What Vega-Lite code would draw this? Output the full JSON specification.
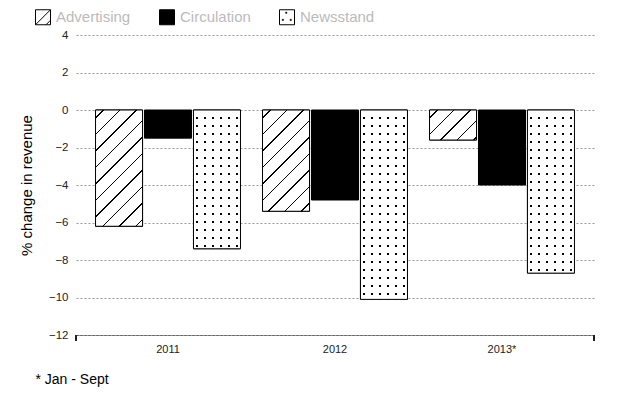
{
  "$schema": "https://vega.github.io/schema/vega-lite/v6.json",
  "width": 518,
  "height": 300,
  "autosize": {"type": "none"},
  "padding": {"left": 76, "top": 35, "right": 36, "bottom": 65},
  "config": {"font": "Liberation Sans", "view": {"stroke": null}},
  "data": {"values": [
    {"year": "2011", "type": "Advertising", "value": -6.2},
    {"year": "2011", "type": "Circulation", "value": -1.5},
    {"year": "2011", "type": "Newsstand", "value": -7.4},
    {"year": "2012", "type": "Advertising", "value": -5.4},
    {"year": "2012", "type": "Circulation", "value": -4.8},
    {"year": "2012", "type": "Newsstand", "value": -10.1},
    {"year": "2013*", "type": "Advertising", "value": -1.6},
    {"year": "2013*", "type": "Circulation", "value": -4.0},
    {"year": "2013*", "type": "Newsstand", "value": -8.7}
  ]},
  "layer": [
    {
      "encoding": {
        "x": {"field": "year", "type": "nominal", "sort": null,
          "scale": {"paddingInner": 0.132, "paddingOuter": 0.117},
          "axis": {"title": "* Jan - Sept", "labelAngle": 0, "labelFontSize": 11, "labelColor": "#222", "labelPadding": 8, "ticks": false,
            "domainDash": [1, 1], "domainColor": "#222", "domainWidth": 1,
            "titleX": -41, "titleY": 44, "titleAlign": "left", "titleBaseline": "middle", "titleAngle": 0,
            "titleFontSize": 14, "titleFontWeight": "normal", "titleColor": "#000"}},
        "xOffset": {"field": "type", "type": "nominal", "scale": {"paddingInner": 0.04, "paddingOuter": 0}},
        "y": {"field": "value", "type": "quantitative", "stack": null,
          "scale": {"domain": [-12, 4], "nice": false, "zero": false},
          "axis": {"values": [-12, -10, -8, -6, -4, -2, 0, 2, 4], "title": "% change in revenue",
            "domain": false, "ticks": false, "labelPadding": 8, "labelFontSize": 11.5, "labelColor": "#222",
            "grid": true, "gridDash": [2, 2], "gridColor": "#999", "gridWidth": 1,
            "titleFontSize": 15, "titleFontWeight": "normal", "titleColor": "#000", "titlePadding": 14}}
      },
      "layer": [
        {
          "mark": {"type": "bar", "stroke": "#000", "strokeWidth": 1},
          "encoding": {
            "fill": {"field": "type", "type": "nominal",
              "scale": {"domain": ["Advertising", "Circulation", "Newsstand"], "range": ["#fff", "#000", "#fff"]},
              "legend": {"title": null, "orient": "none", "legendX": -41, "legendY": -26, "direction": "horizontal",
                "symbolType": "square", "symbolSize": 225, "symbolStrokeColor": "#000", "symbolStrokeWidth": 1,
                "labelFontSize": 15, "labelColor": "#bbb", "labelOffset": 5, "columnPadding": 26, "padding": 0,
                "encoding": {"symbols": {
                  "stroke": {"value": "#000"},
                  "strokeWidth": {"value": 1},
                  "shape": {"value": {"expr": "datum.value === 'Newsstand' ? 'M-1,-1H1V1H-1Z M-0.17,-0.67H-0.03V-0.53H-0.17Z M-0.62,0.28H-0.48V0.42H-0.62Z M0.43,0.28H0.57V0.42H0.43Z' : (datum.value === 'Advertising' ? 'M-1,-1H1V1H-1Z M-1,1L1,-1 M0.4,1L1,0.4' : 'square')"}}
                }}}
            }
          }
        },
        {
          "transform": [{"filter": "datum.type === 'Advertising'"}],
          "mark": {"type": "bar", "stroke": "#000", "strokeWidth": 1},
          "encoding": {
            "fill": {
              "condition": [
                {"test": "datum.year === '2011'", "value": {"gradient": "linear", "x1": 0, "y1": 0, "x2": 0.488, "y2": 1.207, "stops": [
                  {"offset": 0, "color": "#fff"},
                  {"offset": 0.0447, "color": "#fff"}, {"offset": 0.0447, "color": "#000"}, {"offset": 0.0533, "color": "#000"}, {"offset": 0.0533, "color": "#fff"},
                  {"offset": 0.1458, "color": "#fff"}, {"offset": 0.1458, "color": "#000"}, {"offset": 0.1544, "color": "#000"}, {"offset": 0.1544, "color": "#fff"},
                  {"offset": 0.2469, "color": "#fff"}, {"offset": 0.2469, "color": "#000"}, {"offset": 0.2554, "color": "#000"}, {"offset": 0.2554, "color": "#fff"},
                  {"offset": 0.3479, "color": "#fff"}, {"offset": 0.3479, "color": "#000"}, {"offset": 0.3565, "color": "#000"}, {"offset": 0.3565, "color": "#fff"},
                  {"offset": 0.449, "color": "#fff"}, {"offset": 0.449, "color": "#000"}, {"offset": 0.4576, "color": "#000"}, {"offset": 0.4576, "color": "#fff"},
                  {"offset": 0.5501, "color": "#fff"}, {"offset": 0.5501, "color": "#000"}, {"offset": 0.5587, "color": "#000"}, {"offset": 0.5587, "color": "#fff"},
                  {"offset": 0.6511, "color": "#fff"}, {"offset": 0.6511, "color": "#000"}, {"offset": 0.6597, "color": "#000"}, {"offset": 0.6597, "color": "#fff"},
                  {"offset": 0.7522, "color": "#fff"}, {"offset": 0.7522, "color": "#000"}, {"offset": 0.7608, "color": "#000"}, {"offset": 0.7608, "color": "#fff"},
                  {"offset": 0.8533, "color": "#fff"}, {"offset": 0.8533, "color": "#000"}, {"offset": 0.8619, "color": "#000"}, {"offset": 0.8619, "color": "#fff"},
                  {"offset": 0.9544, "color": "#fff"}, {"offset": 0.9544, "color": "#000"}, {"offset": 0.9629, "color": "#000"}, {"offset": 0.9629, "color": "#fff"},
                  {"offset": 1, "color": "#fff"}]}},
                {"test": "datum.year === '2012'", "value": {"gradient": "linear", "x1": 0, "y1": 0, "x2": 0.5592, "y2": 1.2046, "stops": [
                  {"offset": 0, "color": "#fff"},
                  {"offset": 0.0492, "color": "#fff"}, {"offset": 0.0492, "color": "#000"}, {"offset": 0.0587, "color": "#000"}, {"offset": 0.0587, "color": "#fff"},
                  {"offset": 0.1605, "color": "#fff"}, {"offset": 0.1605, "color": "#000"}, {"offset": 0.17, "color": "#000"}, {"offset": 0.17, "color": "#fff"},
                  {"offset": 0.2718, "color": "#fff"}, {"offset": 0.2718, "color": "#000"}, {"offset": 0.2813, "color": "#000"}, {"offset": 0.2813, "color": "#fff"},
                  {"offset": 0.3831, "color": "#fff"}, {"offset": 0.3831, "color": "#000"}, {"offset": 0.3926, "color": "#000"}, {"offset": 0.3926, "color": "#fff"},
                  {"offset": 0.4944, "color": "#fff"}, {"offset": 0.4944, "color": "#000"}, {"offset": 0.5039, "color": "#000"}, {"offset": 0.5039, "color": "#fff"},
                  {"offset": 0.6057, "color": "#fff"}, {"offset": 0.6057, "color": "#000"}, {"offset": 0.6152, "color": "#000"}, {"offset": 0.6152, "color": "#fff"},
                  {"offset": 0.717, "color": "#fff"}, {"offset": 0.717, "color": "#000"}, {"offset": 0.7265, "color": "#000"}, {"offset": 0.7265, "color": "#fff"},
                  {"offset": 0.8283, "color": "#fff"}, {"offset": 0.8283, "color": "#000"}, {"offset": 0.8378, "color": "#000"}, {"offset": 0.8378, "color": "#fff"},
                  {"offset": 0.9396, "color": "#fff"}, {"offset": 0.9396, "color": "#000"}, {"offset": 0.9491, "color": "#000"}, {"offset": 0.9491, "color": "#fff"},
                  {"offset": 1, "color": "#fff"}]}}
              ],
              "value": {"gradient": "linear", "x1": 0, "y1": 0, "x2": 1.164, "y2": 0.743, "stops": [
                {"offset": 0, "color": "#fff"},
                {"offset": 0.0948, "color": "#fff"}, {"offset": 0.0948, "color": "#000"}, {"offset": 0.113, "color": "#000"}, {"offset": 0.113, "color": "#fff"},
                {"offset": 0.3091, "color": "#fff"}, {"offset": 0.3091, "color": "#000"}, {"offset": 0.3273, "color": "#000"}, {"offset": 0.3273, "color": "#fff"},
                {"offset": 0.5234, "color": "#fff"}, {"offset": 0.5234, "color": "#000"}, {"offset": 0.5416, "color": "#000"}, {"offset": 0.5416, "color": "#fff"},
                {"offset": 0.7377, "color": "#fff"}, {"offset": 0.7377, "color": "#000"}, {"offset": 0.7558, "color": "#000"}, {"offset": 0.7558, "color": "#fff"},
                {"offset": 0.9519, "color": "#fff"}, {"offset": 0.9519, "color": "#000"}, {"offset": 0.9701, "color": "#000"}, {"offset": 0.9701, "color": "#fff"},
                {"offset": 1, "color": "#fff"}]}
            }
          }
        },
        {
          "transform": [{"filter": "datum.type === 'Newsstand'"}],
          "mark": {"type": "bar", "strokeWidth": 0},
          "encoding": {
            "fill": {
              "condition": [
                {"test": "datum.year === '2011'", "value": {"gradient": "linear", "x1": 0, "y1": 0, "x2": 0, "y2": 1, "stops": [
                  {"offset": 0, "color": "#fff"},
                  {"offset": 0.0505, "color": "#fff"}, {"offset": 0.0505, "color": "#000"}, {"offset": 0.0649, "color": "#000"}, {"offset": 0.0649, "color": "#fff"},
                  {"offset": 0.1081, "color": "#fff"}, {"offset": 0.1081, "color": "#000"}, {"offset": 0.1225, "color": "#000"}, {"offset": 0.1225, "color": "#fff"},
                  {"offset": 0.1658, "color": "#fff"}, {"offset": 0.1658, "color": "#000"}, {"offset": 0.1802, "color": "#000"}, {"offset": 0.1802, "color": "#fff"},
                  {"offset": 0.2234, "color": "#fff"}, {"offset": 0.2234, "color": "#000"}, {"offset": 0.2378, "color": "#000"}, {"offset": 0.2378, "color": "#fff"},
                  {"offset": 0.2811, "color": "#fff"}, {"offset": 0.2811, "color": "#000"}, {"offset": 0.2955, "color": "#000"}, {"offset": 0.2955, "color": "#fff"},
                  {"offset": 0.3387, "color": "#fff"}, {"offset": 0.3387, "color": "#000"}, {"offset": 0.3532, "color": "#000"}, {"offset": 0.3532, "color": "#fff"},
                  {"offset": 0.3964, "color": "#fff"}, {"offset": 0.3964, "color": "#000"}, {"offset": 0.4108, "color": "#000"}, {"offset": 0.4108, "color": "#fff"},
                  {"offset": 0.4541, "color": "#fff"}, {"offset": 0.4541, "color": "#000"}, {"offset": 0.4685, "color": "#000"}, {"offset": 0.4685, "color": "#fff"},
                  {"offset": 0.5117, "color": "#fff"}, {"offset": 0.5117, "color": "#000"}, {"offset": 0.5261, "color": "#000"}, {"offset": 0.5261, "color": "#fff"},
                  {"offset": 0.5694, "color": "#fff"}, {"offset": 0.5694, "color": "#000"}, {"offset": 0.5838, "color": "#000"}, {"offset": 0.5838, "color": "#fff"},
                  {"offset": 0.627, "color": "#fff"}, {"offset": 0.627, "color": "#000"}, {"offset": 0.6414, "color": "#000"}, {"offset": 0.6414, "color": "#fff"},
                  {"offset": 0.6847, "color": "#fff"}, {"offset": 0.6847, "color": "#000"}, {"offset": 0.6991, "color": "#000"}, {"offset": 0.6991, "color": "#fff"},
                  {"offset": 0.7423, "color": "#fff"}, {"offset": 0.7423, "color": "#000"}, {"offset": 0.7568, "color": "#000"}, {"offset": 0.7568, "color": "#fff"},
                  {"offset": 0.8, "color": "#fff"}, {"offset": 0.8, "color": "#000"}, {"offset": 0.8144, "color": "#000"}, {"offset": 0.8144, "color": "#fff"},
                  {"offset": 0.8577, "color": "#fff"}, {"offset": 0.8577, "color": "#000"}, {"offset": 0.8721, "color": "#000"}, {"offset": 0.8721, "color": "#fff"},
                  {"offset": 0.9153, "color": "#fff"}, {"offset": 0.9153, "color": "#000"}, {"offset": 0.9297, "color": "#000"}, {"offset": 0.9297, "color": "#fff"},
                  {"offset": 0.973, "color": "#fff"}, {"offset": 0.973, "color": "#000"}, {"offset": 0.9874, "color": "#000"}, {"offset": 0.9874, "color": "#fff"},
                  {"offset": 1, "color": "#fff"}]}},
                {"test": "datum.year === '2012'", "value": {"gradient": "linear", "x1": 0, "y1": 0, "x2": 0, "y2": 1, "stops": [
                  {"offset": 0, "color": "#fff"},
                  {"offset": 0.037, "color": "#fff"}, {"offset": 0.037, "color": "#000"}, {"offset": 0.0475, "color": "#000"}, {"offset": 0.0475, "color": "#fff"},
                  {"offset": 0.0792, "color": "#fff"}, {"offset": 0.0792, "color": "#000"}, {"offset": 0.0898, "color": "#000"}, {"offset": 0.0898, "color": "#fff"},
                  {"offset": 0.1215, "color": "#fff"}, {"offset": 0.1215, "color": "#000"}, {"offset": 0.132, "color": "#000"}, {"offset": 0.132, "color": "#fff"},
                  {"offset": 0.1637, "color": "#fff"}, {"offset": 0.1637, "color": "#000"}, {"offset": 0.1743, "color": "#000"}, {"offset": 0.1743, "color": "#fff"},
                  {"offset": 0.2059, "color": "#fff"}, {"offset": 0.2059, "color": "#000"}, {"offset": 0.2165, "color": "#000"}, {"offset": 0.2165, "color": "#fff"},
                  {"offset": 0.2482, "color": "#fff"}, {"offset": 0.2482, "color": "#000"}, {"offset": 0.2587, "color": "#000"}, {"offset": 0.2587, "color": "#fff"},
                  {"offset": 0.2904, "color": "#fff"}, {"offset": 0.2904, "color": "#000"}, {"offset": 0.301, "color": "#000"}, {"offset": 0.301, "color": "#fff"},
                  {"offset": 0.3327, "color": "#fff"}, {"offset": 0.3327, "color": "#000"}, {"offset": 0.3432, "color": "#000"}, {"offset": 0.3432, "color": "#fff"},
                  {"offset": 0.3749, "color": "#fff"}, {"offset": 0.3749, "color": "#000"}, {"offset": 0.3855, "color": "#000"}, {"offset": 0.3855, "color": "#fff"},
                  {"offset": 0.4172, "color": "#fff"}, {"offset": 0.4172, "color": "#000"}, {"offset": 0.4277, "color": "#000"}, {"offset": 0.4277, "color": "#fff"},
                  {"offset": 0.4594, "color": "#fff"}, {"offset": 0.4594, "color": "#000"}, {"offset": 0.47, "color": "#000"}, {"offset": 0.47, "color": "#fff"},
                  {"offset": 0.5017, "color": "#fff"}, {"offset": 0.5017, "color": "#000"}, {"offset": 0.5122, "color": "#000"}, {"offset": 0.5122, "color": "#fff"},
                  {"offset": 0.5439, "color": "#fff"}, {"offset": 0.5439, "color": "#000"}, {"offset": 0.5545, "color": "#000"}, {"offset": 0.5545, "color": "#fff"},
                  {"offset": 0.5861, "color": "#fff"}, {"offset": 0.5861, "color": "#000"}, {"offset": 0.5967, "color": "#000"}, {"offset": 0.5967, "color": "#fff"},
                  {"offset": 0.6284, "color": "#fff"}, {"offset": 0.6284, "color": "#000"}, {"offset": 0.6389, "color": "#000"}, {"offset": 0.6389, "color": "#fff"},
                  {"offset": 0.6706, "color": "#fff"}, {"offset": 0.6706, "color": "#000"}, {"offset": 0.6812, "color": "#000"}, {"offset": 0.6812, "color": "#fff"},
                  {"offset": 0.7129, "color": "#fff"}, {"offset": 0.7129, "color": "#000"}, {"offset": 0.7234, "color": "#000"}, {"offset": 0.7234, "color": "#fff"},
                  {"offset": 0.7551, "color": "#fff"}, {"offset": 0.7551, "color": "#000"}, {"offset": 0.7657, "color": "#000"}, {"offset": 0.7657, "color": "#fff"},
                  {"offset": 0.7974, "color": "#fff"}, {"offset": 0.7974, "color": "#000"}, {"offset": 0.8079, "color": "#000"}, {"offset": 0.8079, "color": "#fff"},
                  {"offset": 0.8396, "color": "#fff"}, {"offset": 0.8396, "color": "#000"}, {"offset": 0.8502, "color": "#000"}, {"offset": 0.8502, "color": "#fff"},
                  {"offset": 0.8818, "color": "#fff"}, {"offset": 0.8818, "color": "#000"}, {"offset": 0.8924, "color": "#000"}, {"offset": 0.8924, "color": "#fff"},
                  {"offset": 0.9241, "color": "#fff"}, {"offset": 0.9241, "color": "#000"}, {"offset": 0.9347, "color": "#000"}, {"offset": 0.9347, "color": "#fff"},
                  {"offset": 0.9663, "color": "#fff"}, {"offset": 0.9663, "color": "#000"}, {"offset": 0.9769, "color": "#000"}, {"offset": 0.9769, "color": "#fff"},
                  {"offset": 1, "color": "#fff"}]}}
              ],
              "value": {"gradient": "linear", "x1": 0, "y1": 0, "x2": 0, "y2": 1, "stops": [
                {"offset": 0, "color": "#fff"},
                {"offset": 0.0429, "color": "#fff"}, {"offset": 0.0429, "color": "#000"}, {"offset": 0.0552, "color": "#000"}, {"offset": 0.0552, "color": "#fff"},
                {"offset": 0.092, "color": "#fff"}, {"offset": 0.092, "color": "#000"}, {"offset": 0.1042, "color": "#000"}, {"offset": 0.1042, "color": "#fff"},
                {"offset": 0.141, "color": "#fff"}, {"offset": 0.141, "color": "#000"}, {"offset": 0.1533, "color": "#000"}, {"offset": 0.1533, "color": "#fff"},
                {"offset": 0.19, "color": "#fff"}, {"offset": 0.19, "color": "#000"}, {"offset": 0.2023, "color": "#000"}, {"offset": 0.2023, "color": "#fff"},
                {"offset": 0.2391, "color": "#fff"}, {"offset": 0.2391, "color": "#000"}, {"offset": 0.2513, "color": "#000"}, {"offset": 0.2513, "color": "#fff"},
                {"offset": 0.2881, "color": "#fff"}, {"offset": 0.2881, "color": "#000"}, {"offset": 0.3004, "color": "#000"}, {"offset": 0.3004, "color": "#fff"},
                {"offset": 0.3372, "color": "#fff"}, {"offset": 0.3372, "color": "#000"}, {"offset": 0.3494, "color": "#000"}, {"offset": 0.3494, "color": "#fff"},
                {"offset": 0.3862, "color": "#fff"}, {"offset": 0.3862, "color": "#000"}, {"offset": 0.3985, "color": "#000"}, {"offset": 0.3985, "color": "#fff"},
                {"offset": 0.4352, "color": "#fff"}, {"offset": 0.4352, "color": "#000"}, {"offset": 0.4475, "color": "#000"}, {"offset": 0.4475, "color": "#fff"},
                {"offset": 0.4843, "color": "#fff"}, {"offset": 0.4843, "color": "#000"}, {"offset": 0.4966, "color": "#000"}, {"offset": 0.4966, "color": "#fff"},
                {"offset": 0.5333, "color": "#fff"}, {"offset": 0.5333, "color": "#000"}, {"offset": 0.5456, "color": "#000"}, {"offset": 0.5456, "color": "#fff"},
                {"offset": 0.5824, "color": "#fff"}, {"offset": 0.5824, "color": "#000"}, {"offset": 0.5946, "color": "#000"}, {"offset": 0.5946, "color": "#fff"},
                {"offset": 0.6314, "color": "#fff"}, {"offset": 0.6314, "color": "#000"}, {"offset": 0.6437, "color": "#000"}, {"offset": 0.6437, "color": "#fff"},
                {"offset": 0.6805, "color": "#fff"}, {"offset": 0.6805, "color": "#000"}, {"offset": 0.6927, "color": "#000"}, {"offset": 0.6927, "color": "#fff"},
                {"offset": 0.7295, "color": "#fff"}, {"offset": 0.7295, "color": "#000"}, {"offset": 0.7418, "color": "#000"}, {"offset": 0.7418, "color": "#fff"},
                {"offset": 0.7785, "color": "#fff"}, {"offset": 0.7785, "color": "#000"}, {"offset": 0.7908, "color": "#000"}, {"offset": 0.7908, "color": "#fff"},
                {"offset": 0.8276, "color": "#fff"}, {"offset": 0.8276, "color": "#000"}, {"offset": 0.8398, "color": "#000"}, {"offset": 0.8398, "color": "#fff"},
                {"offset": 0.8766, "color": "#fff"}, {"offset": 0.8766, "color": "#000"}, {"offset": 0.8889, "color": "#000"}, {"offset": 0.8889, "color": "#fff"},
                {"offset": 0.9257, "color": "#fff"}, {"offset": 0.9257, "color": "#000"}, {"offset": 0.9379, "color": "#000"}, {"offset": 0.9379, "color": "#fff"},
                {"offset": 0.9747, "color": "#fff"}, {"offset": 0.9747, "color": "#000"}, {"offset": 0.987, "color": "#000"}, {"offset": 0.987, "color": "#fff"},
                {"offset": 1, "color": "#fff"}]}
            }
          }
        },
        {
          "transform": [{"filter": "datum.type === 'Newsstand'"}],
          "mark": {"type": "bar", "stroke": "#000", "strokeWidth": 1},
          "encoding": {
            "fill": {"value": {"gradient": "linear", "x1": 0, "y1": 0, "x2": 1, "y2": 0, "stops": [
              {"offset": 0, "color": "#fff"},
              {"offset": 0.0532, "color": "#fff"}, {"offset": 0.0532, "color": "rgba(255,255,255,0)"}, {"offset": 0.0957, "color": "rgba(255,255,255,0)"}, {"offset": 0.0957, "color": "#fff"},
              {"offset": 0.2234, "color": "#fff"}, {"offset": 0.2234, "color": "rgba(255,255,255,0)"}, {"offset": 0.266, "color": "rgba(255,255,255,0)"}, {"offset": 0.266, "color": "#fff"},
              {"offset": 0.3936, "color": "#fff"}, {"offset": 0.3936, "color": "rgba(255,255,255,0)"}, {"offset": 0.4362, "color": "rgba(255,255,255,0)"}, {"offset": 0.4362, "color": "#fff"},
              {"offset": 0.5638, "color": "#fff"}, {"offset": 0.5638, "color": "rgba(255,255,255,0)"}, {"offset": 0.6064, "color": "rgba(255,255,255,0)"}, {"offset": 0.6064, "color": "#fff"},
              {"offset": 0.734, "color": "#fff"}, {"offset": 0.734, "color": "rgba(255,255,255,0)"}, {"offset": 0.7766, "color": "rgba(255,255,255,0)"}, {"offset": 0.7766, "color": "#fff"},
              {"offset": 0.9043, "color": "#fff"}, {"offset": 0.9043, "color": "rgba(255,255,255,0)"}, {"offset": 0.9468, "color": "rgba(255,255,255,0)"}, {"offset": 0.9468, "color": "#fff"},
              {"offset": 1, "color": "#fff"}]}}
          }
        }
      ]
    },
    {
      "mark": {"type": "rule", "color": "#222", "strokeWidth": 1},
      "encoding": {
        "x": {"datum": "2011", "type": "nominal", "bandPosition": -0.1345},
        "y": {"datum": -12, "type": "quantitative",
          "axis": {"values": [-12, -10, -8, -6, -4, -2, 0, 2, 4], "title": "% change in revenue",
            "domain": false, "ticks": false, "labelPadding": 8, "labelFontSize": 11.5, "labelColor": "#222",
            "grid": true, "gridDash": [2, 2], "gridColor": "#999", "gridWidth": 1,
            "titleFontSize": 15, "titleFontWeight": "normal", "titleColor": "#000", "titlePadding": 14}},
        "y2": {"datum": -12.32}
      }
    },
    {
      "mark": {"type": "rule", "color": "#222", "strokeWidth": 1},
      "encoding": {
        "x": {"datum": "2013*", "type": "nominal", "bandPosition": 1.1345},
        "y": {"datum": -12, "type": "quantitative",
          "axis": {"values": [-12, -10, -8, -6, -4, -2, 0, 2, 4], "title": "% change in revenue",
            "domain": false, "ticks": false, "labelPadding": 8, "labelFontSize": 11.5, "labelColor": "#222",
            "grid": true, "gridDash": [2, 2], "gridColor": "#999", "gridWidth": 1,
            "titleFontSize": 15, "titleFontWeight": "normal", "titleColor": "#000", "titlePadding": 14}},
        "y2": {"datum": -12.32}
      }
    }
  ]
}
